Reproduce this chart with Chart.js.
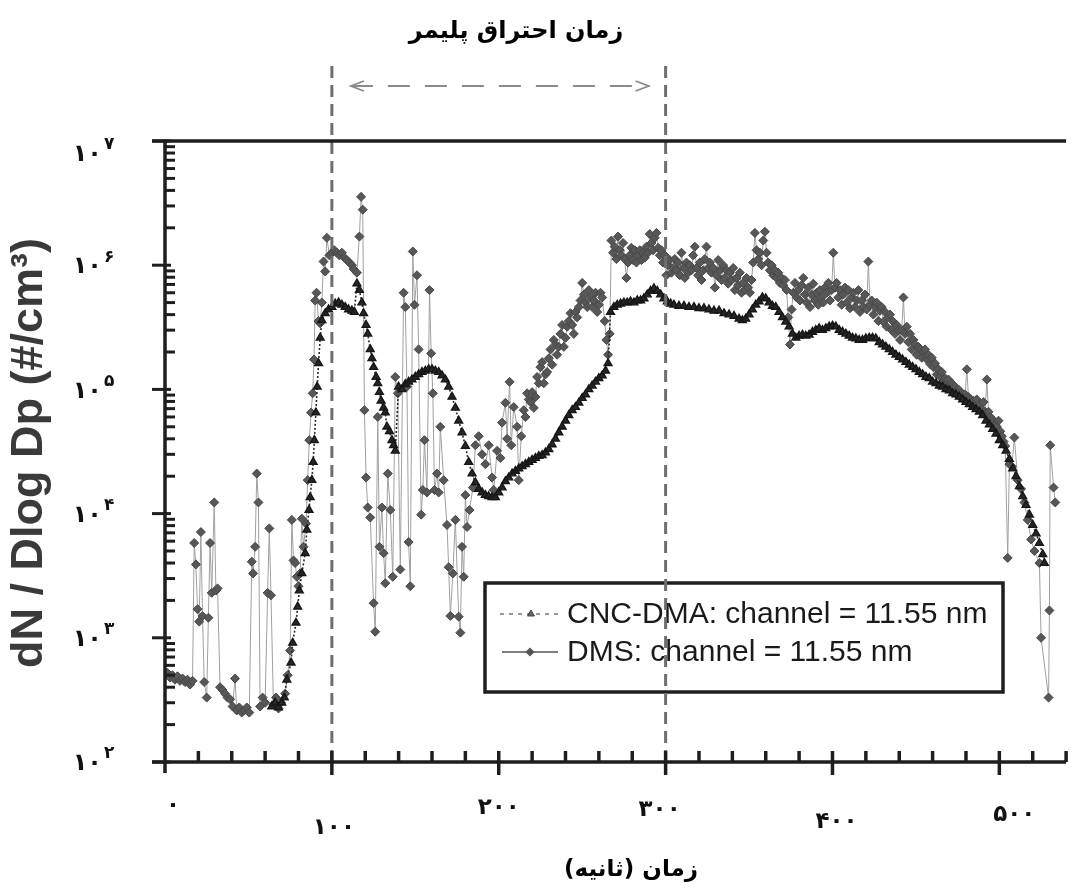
<!DOCTYPE html>
<html>
<head>
<meta charset="utf-8">
<script src="https://cdn.jsdelivr.net/npm/chart.js@4.4.1/dist/chart.umd.min.js"></script>
<style>
  html, body { margin: 0; padding: 0; background: #fff; }
  canvas { display: block; }
</style>
</head>
<body>
<canvas id="grafica" width="1072" height="893"></canvas>
<script>
// textos
const chartTitle = 'زمان احتراق پلیمر';
const xAxisTitle = 'زمان (ثانیه)';
const yAxisTitle = 'dN / Dlog Dp (#/cm³)';
const seriesNames = ['CNC-DMA: channel = 11.55 nm', 'DMS: channel = 11.55 nm'];

// ejes
const xTicks = [0, 100, 200, 300, 400, 500];
const xTickLabels = ['۰', '۱۰۰', '۲۰۰', '۳۰۰', '۴۰۰', '۵۰۰'];
const yTicks = [1e2, 1e3, 1e4, 1e5, 1e6, 1e7];
const yTickExponents = ['۲', '۳', '۴', '۵', '۶', '۷'];
const combustionWindow = [100, 300];   // seconds

// CNC-DMA, time (s) and dN/dlogDp
const cncTime = [
  64, 66, 68, 70, 71.5, 73, 75.5, 76.5, 78.5, 79.5, 80.5, 82, 84, 85, 86.3, 87, 88, 88.8, 89.5, 90.4,
  91.2, 92, 93, 94, 96, 98, 100, 102, 104, 106, 108, 110, 112, 113.5,
  115, 116.5, 118, 119, 120.5, 121.5, 123, 124, 125, 126.5, 127.5, 128.5, 129.5, 131, 132, 133, 134.5, 136, 137, 138,
  140, 142, 144, 146, 148, 150, 152, 154, 156, 158, 160, 162, 164, 166, 168, 170, 172, 174, 176, 178,
  180, 182, 184, 186, 188, 190, 192, 194, 196, 198, 200, 202, 204, 206, 208, 210, 212, 214, 216, 218,
  220, 222, 224, 226, 228, 230, 232, 234, 236, 238, 240, 242, 244, 246, 248, 250, 252, 254, 256, 258,
  260, 262, 264, 265.5,
  267, 269, 271, 273, 275, 277, 279, 281, 283, 285, 287, 289, 291, 293, 295, 297, 299, 301, 303, 305,
  308, 311, 314, 317, 320, 323, 326, 329, 332, 335, 338, 341, 344, 346, 348, 350, 352, 354, 356, 358,
  360, 362, 364, 366, 368, 370, 372, 374, 376, 378, 380, 382, 384, 386, 388, 390, 392, 394, 396, 398,
  400, 402, 404, 406, 408, 410, 412, 414, 416, 418, 420, 422, 424, 426, 428, 430, 432, 434, 436, 438,
  440, 442, 444, 446, 448, 450, 452, 454, 456, 458, 460, 462, 464, 466, 468, 470, 472, 474, 476, 478,
  480, 482, 484, 486, 488, 490, 492, 494, 496, 498, 500, 502, 504, 506, 508, 510, 512, 514, 516, 518,
  520, 522, 524, 526, 527
];
const cncValue = [
  2.8e2, 3.0e2, 2.75e2, 3.0e2, 3.3e2, 4.6e2, 6.3e2, 9.1e2, 1.32e3, 1.78e3, 2.4e3, 3.3e3, 4.8e3, 7.4e3, 1.07e4, 1.35e4, 1.86e4, 2.6e4, 3.9e4, 6.5e4,
  1.05e5, 1.62e5, 2.6e5, 3.6e5, 4.1e5, 4.4e5, 4.6e5, 4.9e5, 5.0e5, 4.8e5, 4.6e5, 4.4e5, 4.3e5, 4.2e5,
  7.1e5, 6.3e5, 5.0e5, 4.1e5, 3.3e5, 2.8e5, 2.1e5, 1.78e5, 1.51e5, 1.26e5, 1.12e5, 9.5e4, 8.1e4, 7.1e4, 6.5e4, 5.0e4, 4.6e4, 3.9e4, 3.55e4, 3.2e4,
  1.05e5, 1.0e5, 1.1e5, 1.15e5, 1.2e5, 1.26e5, 1.32e5, 1.38e5, 1.41e5, 1.45e5, 1.45e5, 1.41e5, 1.38e5, 1.29e5, 1.2e5, 1.05e5, 8.7e4, 7.1e4, 5.6e4, 4.5e4,
  3.5e4, 2.6e4, 2.1e4, 1.78e4, 1.58e4, 1.48e4, 1.41e4, 1.38e4, 1.35e4, 1.35e4, 1.48e4, 1.62e4, 1.82e4, 1.95e4, 2.1e4, 2.2e4, 2.3e4, 2.4e4, 2.5e4, 2.6e4,
  2.7e4, 2.8e4, 2.9e4, 2.95e4, 3.1e4, 3.3e4, 3.6e4, 4.0e4, 4.5e4, 5.0e4, 5.6e4, 6.2e4, 6.8e4, 7.2e4, 7.8e4, 8.5e4, 9.1e4, 1.0e5, 1.07e5, 1.15e5,
  1.23e5, 1.29e5, 1.41e5, 1.62e5,
  4.2e5, 4.6e5, 4.8e5, 4.9e5, 5.0e5, 5.0e5, 5.1e5, 5.0e5, 5.2e5, 5.2e5, 5.4e5, 5.8e5, 6.2e5, 6.5e5, 6.2e5, 5.8e5, 5.4e5, 5.1e5, 4.9e5, 4.8e5,
  4.7e5, 4.7e5, 4.6e5, 4.6e5, 4.5e5, 4.5e5, 4.4e5, 4.3e5, 4.3e5, 4.1e5, 4.0e5, 3.9e5, 3.7e5, 3.6e5, 3.7e5, 4.0e5, 4.4e5, 4.8e5, 5.1e5, 5.5e5,
  5.4e5, 5.0e5, 4.7e5, 4.6e5, 4.2e5, 3.8e5, 3.5e5, 3.2e5, 2.8e5, 2.6e5, 2.7e5, 2.75e5, 2.7e5, 2.75e5, 2.9e5, 3.0e5, 3.1e5, 3.0e5, 3.1e5, 3.2e5,
  3.25e5, 3.2e5, 3.0e5, 2.9e5, 2.8e5, 2.7e5, 2.6e5, 2.57e5, 2.5e5, 2.5e5, 2.57e5, 2.6e5, 2.6e5, 2.57e5, 2.4e5, 2.3e5, 2.2e5, 2.1e5, 2.0e5, 1.9e5,
  1.82e5, 1.74e5, 1.66e5, 1.58e5, 1.51e5, 1.45e5, 1.38e5, 1.32e5, 1.26e5, 1.23e5, 1.15e5, 1.12e5, 1.07e5, 1.05e5, 1.0e5, 9.8e4, 9.3e4, 9.1e4, 8.7e4, 8.3e4,
  7.9e4, 7.6e4, 7.2e4, 6.9e4, 6.6e4, 6.2e4, 5.6e4, 5.2e4, 4.8e4, 4.4e4, 3.9e4, 3.55e4, 3.2e4, 2.75e4, 2.3e4, 2.0e4, 1.66e4, 1.38e4, 1.17e4, 9.8e3,
  8.1e3, 6.9e3, 5.8e3, 4.7e3, 4.0e3
];

// DMS, time (s) and dN/dlogDp
const dmsTime = [
  0, 1.5, 3, 4.5, 6, 7.5, 9, 10.5, 12, 13.5, 15, 16.5, 17.5, 18.5, 19.5, 20.5, 21.5, 22.5, 23.5, 25,
  26, 27, 28, 29.5, 30.5, 31.5, 33, 34.5, 36, 37.5, 39, 40.5, 42, 43, 44.5, 46, 47.5, 49, 50.5, 52,
  52.8, 54, 55, 56, 57, 58.5, 60, 61.5, 62.5, 63.5, 65, 66.5, 68, 69.5, 72, 73.5, 75, 76, 77, 78,
  79, 80, 81, 82, 83, 84.5, 85.5, 86.5, 87.5, 88.5, 89.3, 90, 90.8, 92, 93, 94, 95, 96, 97, 98.5,
  100, 101.5, 103, 104.5, 106, 107.5, 109, 110.5, 112, 113, 115, 116.5, 117.5, 118.5, 119.5, 120.5, 121.5, 123, 125, 126,
  127.5, 128.5, 130, 131, 132, 133.5, 135, 136.5, 138, 139.5, 141, 143, 144, 145, 146, 147, 148.5, 149.5, 151, 152,
  153.5, 154.5, 155.5, 157, 158.5, 159.5, 160.5, 161.5, 163, 164, 165, 167, 169, 170, 171, 172.5, 174, 176, 177, 178,
  179, 180, 181, 182.5, 184.5, 186, 188, 190, 192, 194, 196, 197, 199, 201, 202, 204, 205, 206.5, 207.5, 209,
  211, 212, 213.5, 215, 216, 217, 218, 219, 220, 221, 222, 223, 224, 225, 226, 227, 228, 229, 230, 231,
  232, 233, 234, 235, 236, 237, 238, 239, 240, 241, 242, 243, 244, 245, 246, 247, 248, 249, 250, 251,
  252, 253, 254, 255, 256, 257, 258, 259, 260, 261, 262, 263.5, 264.5, 265.5, 266.5,
  267.5, 268.5, 269.5, 270.5, 271.5, 272.5, 273.5, 274.5, 275.5, 276.5, 277.5, 278.5, 279.5, 280.5, 281.5, 282.5, 283.5, 284.5, 285.5, 286.5,
  287.5, 288.5, 289.5, 290.5, 291.5, 292.5, 293.5, 294.5, 295.5, 296.5, 297.5, 298.5, 299.5, 300.5, 301.5, 302.5, 303.5, 304.5, 305.5, 306.5,
  307.5, 308.5, 309.5, 310.5, 311.5, 312.5, 313.5, 314.5, 315.5, 316.5, 317.5, 318.5, 319.5, 320.5, 321.5, 322.5, 323.5, 324.5, 325.5, 326.5,
  327.5, 328.5, 329.5, 330.5, 331.5, 332.5, 333.5, 334.5, 335.5, 336.5, 337.5, 338.5, 339.5, 340.5, 341.5, 342.5, 343.5, 344.5, 345.5, 346.5,
  347.5, 348.5, 349.5, 350.5, 351.5, 352.5, 353.5, 354.5, 355.5, 356.5, 357.5, 358.5, 359.5, 360.5, 361.5, 362.5, 363.5, 364.5, 365.5, 366.5,
  367.5, 368.5, 369.5, 370.5, 371.5, 372.5, 373.5, 374.5, 375.5, 376.5, 377.5, 378.5, 379.5, 380.5, 381.5, 382.5, 383.5, 384.5, 385.5, 386.5,
  387.5, 388.5, 389.5, 390.5, 391.5, 392.5, 393.5, 394.5, 395.5, 396.5, 397.5, 398.5, 399.5, 400.5, 401.5, 402.5, 403.5, 404.5, 405.5, 406.5,
  407.5, 408.5, 409.5, 410.5, 411.5, 412.5, 413.5, 414.5, 415.5, 416.5, 417.5, 418.5, 419.5, 420.5, 421.5, 422.5, 423.5, 424.5, 425.5, 426.5,
  427.5, 428.5, 429.5, 430.5, 431.5, 432.5, 433.5, 434.5, 435.5, 436.5, 437.5, 438.5, 439.5, 440.5, 441.5, 442.5, 443.5, 444.5, 445.5, 446.5,
  447.5, 448.5, 449.5, 450.5, 451.5, 452.5, 453.5, 454.5, 455.5, 456.5, 457.5, 458.5, 459.5, 460.5, 461.5, 462.5, 463.5, 464.5, 465.5, 466.5,
  467.5, 468.5, 469.5, 470.5, 471.5, 472.5, 473.5, 474.5, 475.5, 476.5, 477.5, 478.5, 479.5, 480.5, 481.5, 482.5, 483.5, 484.5, 485.5, 486.5,
  487.5, 488.5, 489.5, 490.5, 491.5, 492.5, 493.5, 494.5, 495.5, 496.5, 497.5, 498.5, 499.5, 500.5, 501.5, 502.5, 503.5,
  505, 506, 507.5, 509, 511, 513, 515, 517, 519, 521, 524, 525, 529.5, 530, 530.5, 532.5, 533.5
];
const dmsValue = [
  5.0e2, 5.2e2, 4.8e2, 5.0e2, 4.6e2, 4.9e2, 4.5e2, 4.7e2, 4.4e2, 4.6e2, 4.2e2, 4.5e2, 5.8e3, 3.9e3, 1.7e3, 1.35e3, 7.1e3, 1.5e3, 4.4e2, 3.3e2,
  1.45e3, 5.8e3, 2.3e3, 1.23e4, 2.4e3, 2.5e3, 4.0e2, 3.8e2, 3.55e2, 3.3e2, 3.2e2, 2.8e2, 4.7e2, 2.6e2, 2.75e2, 2.5e2, 2.6e2, 2.75e2, 2.5e2, 4.1e3,
  3.3e3, 5.4e3, 2.1e4, 1.23e4, 2.8e2, 3.3e2, 3.0e2, 2.3e3, 7.6e3, 2.2e3, 2.9e2, 3.3e2, 2.7e2, 3.0e2, 3.55e2, 5.0e2, 7.9e2, 8.9e3, 4.2e3, 4.0e3,
  3.1e3, 2.6e3, 3.3e3, 9.1e3, 5.4e3, 8.3e3, 1.86e4, 3.9e4, 6.5e4, 9.3e4, 1.74e5, 5.2e5, 6.0e5, 3.55e5, 3.4e5, 5.0e5, 1.07e6, 8.9e5, 1.66e6, 1.2e6,
  1.26e6, 1.32e6, 1.26e6, 1.2e6, 1.26e6, 1.15e6, 1.1e6, 1.05e6, 1.0e6, 9.3e5, 8.7e5, 1.7e6, 3.55e6, 2.8e6, 6.8e4, 1.95e4, 1.12e4, 9.3e3, 1.9e3, 1.12e3,
  6.0e4, 5.4e3, 1.12e4, 4.8e3, 2.75e3, 2.1e4, 1.07e4, 3.1e3, 1.26e5, 9.3e4, 3.55e3, 6.0e5, 4.6e5, 1.05e5, 5.9e3, 2.6e3, 1.29e6, 4.8e5, 8.3e5, 2.1e5,
  9.8e3, 1.55e4, 3.9e4, 1.48e4, 6.3e5, 1.95e5, 9.3e4, 1.55e4, 2.1e4, 1.48e4, 5.0e4, 1.86e4, 8.1e3, 3.7e3, 1.5e3, 3.3e3, 8.9e3, 1.48e3, 1.1e3, 5.4e3,
  3.1e3, 1.41e4, 7.8e3, 1.07e4, 1.62e4, 3.55e4, 4.2e4, 3.0e4, 2.5e4, 3.55e4, 1.95e4, 1.55e4, 3.2e4, 2.8e4, 5.4e4, 7.8e4, 4.0e4, 1.15e5, 3.55e4, 7.2e4,
  5.0e4, 1.86e4, 4.2e4, 6.8e4, 6.0e4, 9.3e4, 8.3e4, 7.9e4, 9.5e4, 7.1e4, 8.7e4, 1.26e5, 1.12e5, 1.51e5, 1.66e5, 1.12e5, 1.32e5, 1.38e5, 1.78e5, 2.1e5,
  1.58e5, 2.5e5, 2.3e5, 1.9e5, 2.2e5, 2.8e5, 3.3e5, 2.2e5, 2.6e5, 3.2e5, 3.55e5, 4.1e5, 3.3e5, 2.8e5, 4.2e5, 3.8e5, 4.6e5, 5.2e5, 7.2e5, 5.8e5,
  5.0e5, 4.6e5, 6.3e5, 5.5e5, 4.6e5, 5.2e5, 6.0e5, 4.2e5, 4.8e5, 6.0e5, 5.5e5, 3.55e5, 2.5e5, 1.9e5, 2.8e5,
  1.58e6, 1.26e6, 1.41e6, 1.12e6, 1.7e6, 1.32e6, 1.2e6, 1.51e6, 1.12e6, 7.9e5, 1.05e6, 1.2e6, 1.38e6, 1.1e6, 1.32e6, 1.05e6, 1.2e6, 1.32e6, 1.1e6, 1.26e6,
  1.15e6, 1.41e6, 1.26e6, 1.78e6, 1.51e6, 1.32e6, 1.66e6, 1.82e6, 1.38e6, 1.2e6, 1.32e6, 1.05e6, 1.2e6, 8.3e5, 1.0e6, 1.1e6, 8.7e5, 9.5e5, 1.12e6, 9.1e5,
  1.05e6, 8.3e5, 1.26e6, 9.5e5, 7.9e5, 1.05e6, 8.7e5, 1.0e6, 9.1e5, 1.2e6, 1.41e6, 9.5e5, 8.3e5, 1.05e6, 7.6e5, 9.1e5, 1.12e6, 1.41e6, 9.5e5, 1.05e6,
  8.7e5, 9.5e5, 6.6e5, 8.3e5, 1.1e6, 9.1e5, 7.6e5, 1.0e6, 7.9e5, 9.1e5, 7.1e5, 8.7e5, 7.6e5, 9.5e5, 6.3e5, 7.9e5, 6.9e5, 8.7e5, 6.0e5, 7.2e5,
  6.3e5, 7.9e5, 6.6e5, 6.0e5, 7.6e5, 1.05e6, 1.82e6, 1.32e6, 1.12e6, 1.26e6, 1.0e6, 1.58e6, 1.86e6, 1.26e6, 1.05e6, 9.1e5, 1.0e6, 8.3e5, 9.1e5, 7.9e5,
  8.7e5, 7.2e5, 7.9e5, 6.9e5, 7.6e5, 6.3e5, 3.8e5, 2.3e5, 4.4e5, 6.0e5, 7.2e5, 5.5e5, 6.3e5, 5.2e5, 6.9e5, 7.9e5, 5.8e5, 5.0e5, 6.6e5, 4.6e5,
  5.8e5, 7.1e5, 5.2e5, 6.0e5, 4.8e5, 6.3e5, 5.5e5, 5.0e5, 6.6e5, 6.0e5, 7.2e5, 5.2e5, 6.3e5, 1.26e6, 6.6e5, 7.2e5, 5.5e5, 6.3e5, 4.8e5, 5.8e5,
  6.6e5, 5.0e5, 6.3e5, 4.5e5, 5.5e5, 6.0e5, 4.6e5, 5.2e5, 6.3e5, 4.2e5, 5.2e5, 4.6e5, 5.8e5, 4.4e5, 1.07e6, 4.8e5, 5.2e5, 4.0e5, 4.6e5, 5.0e5,
  3.55e5, 4.3e5, 4.6e5, 3.5e5, 4.2e5, 3.2e5, 3.8e5, 4.0e5, 3.0e5, 3.5e5, 2.8e5, 3.3e5, 3.0e5, 2.5e5, 3.0e5, 5.5e5, 2.8e5, 3.2e5, 2.4e5, 2.8e5,
  2.1e5, 2.5e5, 2.3e5, 1.9e5, 2.2e5, 2.1e5, 1.8e5, 2.0e5, 2.1e5, 1.74e5, 1.9e5, 1.6e5, 1.8e5, 1.51e5, 1.62e5, 1.32e5, 1.45e5, 1.26e5, 1.38e5, 1.15e5,
  1.23e5, 1.1e5, 1.2e5, 1.05e5, 1.12e5, 9.5e4, 1.05e5, 9.1e4, 1.0e5, 8.7e4, 9.3e4, 8.3e4, 9.1e4, 1.45e5, 8.7e4, 8.3e4, 7.6e4, 8.1e4, 7.4e4, 8.3e4,
  7.1e4, 7.6e4, 6.9e4, 7.9e4, 6.6e4, 1.2e5, 6.6e4, 6.0e4, 5.8e4, 5.5e4, 5.2e4, 5.0e4, 5.6e4, 4.6e4, 4.2e4, 3.8e4, 3.5e4,
  4.4e3, 2.5e4, 2.4e4, 4.1e4, 1.86e4, 1.58e4, 1.23e4, 8.9e3, 6.2e3, 5.0e3, 4.0e3, 1.0e3, 3.3e2, 1.66e3, 3.55e4, 1.62e4, 1.23e4
];

let chart;

function toPoints(times, values) {
  return times.map((t, i) => ({ x: t, y: values[i] }));
}

// ejes, leyenda, textos y lineas de la ventana de combustion
const decorPlugin = {
  id: 'decor',
  afterDatasetsDraw(chart) {
    const ctx = chart.ctx;
    const xs = chart.scales.x;
    const ys = chart.scales.y;
    const area = chart.chartArea;
    const ink = '#1e1e1e';

    ctx.save();

    // leyenda
    const lx = 485, ly = 583, lw = 518, lh = 109;
    ctx.fillStyle = '#fff';
    ctx.fillRect(lx, ly, lw, lh);
    ctx.strokeStyle = ink;
    ctx.lineWidth = 3.5;
    ctx.strokeRect(lx, ly, lw, lh);

    const row1 = ly + 31, row2 = ly + 69;
    ctx.strokeStyle = '#777';
    ctx.lineWidth = 1.5;
    ctx.setLineDash([4, 5]);
    ctx.beginPath(); ctx.moveTo(lx + 15, row1); ctx.lineTo(lx + 75, row1); ctx.stroke();
    ctx.setLineDash([]);
    ctx.fillStyle = '#666';
    ctx.strokeStyle = '#444';
    ctx.lineWidth = 1;
    Chart.helpers.drawPoint(ctx, { pointStyle: 'triangle', radius: 4, rotation: 0, borderWidth: 1 }, lx + 46, row1);

    ctx.strokeStyle = '#555';
    ctx.lineWidth = 1.5;
    ctx.beginPath(); ctx.moveTo(lx + 17, row2); ctx.lineTo(lx + 73, row2); ctx.stroke();
    ctx.fillStyle = '#555';
    Chart.helpers.drawPoint(ctx, { pointStyle: 'rectRot', radius: 3.5, rotation: 0, borderWidth: 1 }, lx + 45, row2);

    ctx.fillStyle = '#1a1a1a';
    ctx.font = '30px "Liberation Sans", Arial, sans-serif';
    ctx.textAlign = 'left';
    ctx.textBaseline = 'middle';
    ctx.fillText(seriesNames[0], lx + 82, row1 + 1);
    ctx.fillText(seriesNames[1], lx + 82, row2 + 1);

    // lineas verticales punteadas
    ctx.strokeStyle = '#6e6e6e';
    ctx.lineWidth = 3;
    ctx.setLineDash([12, 7]);
    combustionWindow.forEach(t => {
      const px = xs.getPixelForValue(t);
      ctx.beginPath();
      ctx.moveTo(px, 66);
      ctx.lineTo(px, area.bottom);
      ctx.stroke();
    });

    // flecha doble
    const ax1 = xs.getPixelForValue(combustionWindow[0]) + 19;
    const ax2 = xs.getPixelForValue(combustionWindow[1]) - 17;
    const ay = 86;
    ctx.strokeStyle = '#8a8a8a';
    ctx.lineWidth = 1.8;
    ctx.setLineDash([22, 15]);
    ctx.beginPath(); ctx.moveTo(ax1, ay); ctx.lineTo(ax2, ay); ctx.stroke();
    ctx.setLineDash([]);
    ctx.beginPath();
    ctx.moveTo(ax1 + 13, ay - 5); ctx.lineTo(ax1, ay); ctx.lineTo(ax1 + 13, ay + 5);
    ctx.moveTo(ax2 - 13, ay - 5); ctx.lineTo(ax2, ay); ctx.lineTo(ax2 - 13, ay + 5);
    ctx.stroke();

    // ejes
    ctx.strokeStyle = ink;
    ctx.lineWidth = 3.5;
    ctx.beginPath();
    ctx.moveTo(area.left - 13, area.top); ctx.lineTo(area.right, area.top);
    ctx.moveTo(area.left - 13, area.bottom); ctx.lineTo(area.right, area.bottom);
    ctx.moveTo(area.left, area.top); ctx.lineTo(area.left, area.bottom + 11);
    ctx.stroke();

    // marcas del eje y (log)
    ctx.lineWidth = 3;
    yTicks.forEach(v => {
      const py = ys.getPixelForValue(v);
      ctx.beginPath(); ctx.moveTo(area.left - 13, py); ctx.lineTo(area.left + 6, py); ctx.stroke();
    });
    for (let d = 0; d < yTicks.length - 1; d++) {
      for (let m = 2; m <= 9; m++) {
        const py = ys.getPixelForValue(yTicks[d] * m);
        ctx.beginPath(); ctx.moveTo(area.left, py); ctx.lineTo(area.left + 10, py); ctx.stroke();
      }
    }

    // marcas del eje x
    ctx.lineWidth = 3.5;
    for (let t = 20; t <= xs.max; t += 20) {
      const px = xs.getPixelForValue(t);
      const major = t % 100 === 0;
      ctx.beginPath();
      ctx.moveTo(px, area.bottom - 11);
      ctx.lineTo(px, major ? area.bottom + 13 : area.bottom);
      ctx.stroke();
    }

    // etiquetas del eje y: 10 con exponente
    ctx.fillStyle = '#111';
    ctx.textBaseline = 'middle';
    yTicks.forEach((v, i) => {
      let py = ys.getPixelForValue(v);
      if (py < area.top + 10) py = area.top + 12;
      ctx.font = 'bold 24px "DejaVu Sans", sans-serif';
      ctx.textAlign = 'right';
      ctx.letterSpacing = '2px';
      ctx.fillText('۱۰', 102, py + 2);
      ctx.font = 'bold 17px "DejaVu Sans", sans-serif';
      ctx.textAlign = 'left';
      ctx.letterSpacing = '0px';
      ctx.fillText(yTickExponents[i], 104, py - 8);
    });

    // etiquetas del eje x, escalonadas como en el original
    const xLabelShift = [[8, 44], [2, 66], [0, 46], [-6, 48], [4, 60], [15, 53]];
    ctx.font = 'bold 23px "DejaVu Sans", sans-serif';
    ctx.textAlign = 'center';
    ctx.letterSpacing = '3px';
    xTicks.forEach((t, i) => {
      const px = xs.getPixelForValue(t);
      ctx.fillText(xTickLabels[i], px + xLabelShift[i][0], area.bottom + xLabelShift[i][1]);
    });
    ctx.letterSpacing = '0px';

    // titulos
    ctx.direction = 'rtl';
    ctx.textAlign = 'center';
    ctx.fillStyle = '#000';
    ctx.font = 'bold 24px "DejaVu Sans", sans-serif';
    ctx.fillText(chartTitle, 516, 32);
    ctx.font = 'bold 23px "DejaVu Sans", sans-serif';
    ctx.fillText(xAxisTitle, 631, 870);
    ctx.direction = 'ltr';

    ctx.save();
    ctx.translate(30, 453);
    ctx.rotate(-Math.PI / 2);
    ctx.fillStyle = '#3a3a3a';
    ctx.font = 'bold 45px "Liberation Sans", Arial, sans-serif';
    ctx.textAlign = 'center';
    ctx.fillText(yAxisTitle, 0, 0);
    ctx.restore();

    ctx.restore();
  }
};

function createChart() {
  const ctx = document.getElementById('grafica').getContext('2d');

  chart = new Chart(ctx, {
    type: 'line',
    data: {
      datasets: [{
        label: seriesNames[0],
        data: toPoints(cncTime, cncValue),
        borderColor: '#2a2a2a',
        borderWidth: 1.6,
        borderDash: [2, 2],
        pointStyle: 'triangle',
        pointRadius: 4.5,
        pointBackgroundColor: '#262626',
        pointBorderColor: '#161616',
        pointBorderWidth: 1.4,
        tension: 0
      }, {
        label: seriesNames[1],
        data: toPoints(dmsTime, dmsValue),
        borderColor: '#a0a0a0',
        borderWidth: 1,
        pointStyle: 'rectRot',
        pointRadius: 4.5,
        pointBackgroundColor: '#575757',
        pointBorderColor: '#474747',
        pointBorderWidth: 1,
        tension: 0
      }]
    },
    options: {
      responsive: false,
      animation: false,
      devicePixelRatio: 1,
      events: [],
      layout: {
        padding: { left: 165, top: 141, right: 0, bottom: 131 }
      },
      plugins: {
        legend: { display: false },
        tooltip: { enabled: false }
      },
      scales: {
        x: { type: 'linear', min: 0, max: 540, display: false },
        y: { type: 'logarithmic', min: 1e2, max: 1e7, display: false }
      }
    },
    plugins: [decorPlugin]
  });
}

window.addEventListener('load', createChart);
</script>
</body>
</html>
